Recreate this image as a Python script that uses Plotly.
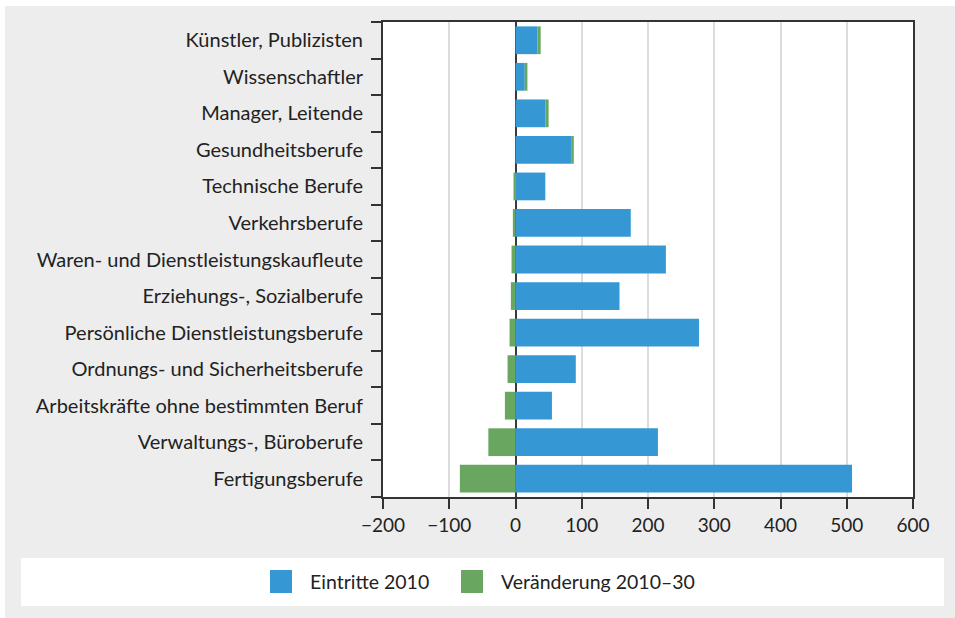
import plotly.graph_objects as go

# Berufsgruppen, von oben nach unten
berufe = [
    "Künstler, Publizisten",
    "Wissenschaftler",
    "Manager, Leitende",
    "Gesundheitsberufe",
    "Technische Berufe",
    "Verkehrsberufe",
    "Waren- und Dienstleistungskaufleute",
    "Erziehungs-, Sozialberufe",
    "Persönliche Dienstleistungsberufe",
    "Ordnungs- und Sicherheitsberufe",
    "Arbeitskräfte ohne bestimmten Beruf",
    "Verwaltungs-, Büroberufe",
    "Fertigungsberufe",
]
eintritte_2010 = [33, 14, 45, 84, 45, 174, 227, 157, 277, 91, 55, 215, 508]
veraenderung_2010_30 = [5, 4, 5, 4, -3, -4, -6, -7, -9, -12, -16, -41, -84]
serien = ["Eintritte 2010", "Veränderung 2010–30"]
farben = ["#3598d4", "#69a761"]
x_ticks = [-200, -100, 0, 100, 200, 300, 400, 500, 600]

W, H = 955, 618
L, R, T, B = 383, 913, 22, 497  # Plotfläche in Pixeln
FONT = "Lato"
TEXT = "#222222"
LINE = "#333333"


def px(x):
    return (x - L) / (R - L)


def py(y):
    return (B - y) / (B - T)


fig = go.Figure()
for name, vals, col in zip(serien, [eintritte_2010, veraenderung_2010_30], farben):
    fig.add_trace(go.Bar(
        y=berufe, x=vals, name=name, orientation="h",
        marker=dict(color=col, line=dict(width=0)),
        showlegend=False,
    ))

shapes = [
    # grauer Hintergrund des Kastens
    dict(type="rect", xref="paper", yref="paper", x0=px(5), x1=px(960),
         y0=py(625), y1=py(6), fillcolor="#ededed", line=dict(width=0), layer="below"),
    # weiße Plotfläche
    dict(type="rect", xref="paper", yref="paper", x0=0, x1=1, y0=0, y1=1,
         fillcolor="white", line=dict(width=0), layer="below"),
    # weiße Legendenleiste
    dict(type="rect", xref="paper", yref="paper", x0=px(21), x1=px(944),
         y0=py(606), y1=py(558), fillcolor="white", line=dict(width=0), layer="below"),
]
annotations = []
swatch_x = [270, 461]
for name, col, sx in zip(serien, farben, swatch_x):
    shapes.append(dict(type="rect", xref="paper", yref="paper",
                       x0=px(sx), x1=px(sx + 22), y0=py(593), y1=py(570),
                       fillcolor=col, line=dict(width=0)))
    annotations.append(dict(xref="paper", yref="paper", x=px(sx + 38), y=py(581.5),
                            text=name, showarrow=False, xanchor="left", yanchor="middle",
                            font=dict(family=FONT, size=19.5, color=TEXT)))

fig.update_layout(
    width=W, height=H,
    margin=dict(l=L, r=W - R, t=T, b=H - B, pad=0),
    paper_bgcolor="white", plot_bgcolor="white",
    barmode="relative", bargap=0.24,
    font=dict(family=FONT, size=18, color=TEXT),
    shapes=shapes, annotations=annotations,
    showlegend=False,
)
fig.update_xaxes(
    range=[-200, 600], tickvals=x_ticks, ticktext=[f"{v:d}".replace("-", "\u2212") for v in x_ticks],
    showgrid=True, gridcolor="#dcdcdc", gridwidth=2,
    zeroline=True, zerolinecolor="#3a3a3a", zerolinewidth=1.5,
    showline=True, linecolor=LINE, linewidth=2, mirror=True,
    ticks="outside", ticklen=10, tickwidth=1.5, tickcolor=LINE,
    tickfont=dict(family=FONT, size=19, color=TEXT),
)
fig.update_yaxes(
    categoryorder="array", categoryarray=berufe[::-1],
    showgrid=False, zeroline=False,
    showline=True, linecolor=LINE, linewidth=2, mirror=True,
    ticks="outside", ticklen=10, tickwidth=1.5, tickcolor=LINE, tickson="boundaries",
    tickfont=dict(family=FONT, size=20, color=TEXT),
    ticklabelstandoff=14,
)

fig.write_html("out.html")
